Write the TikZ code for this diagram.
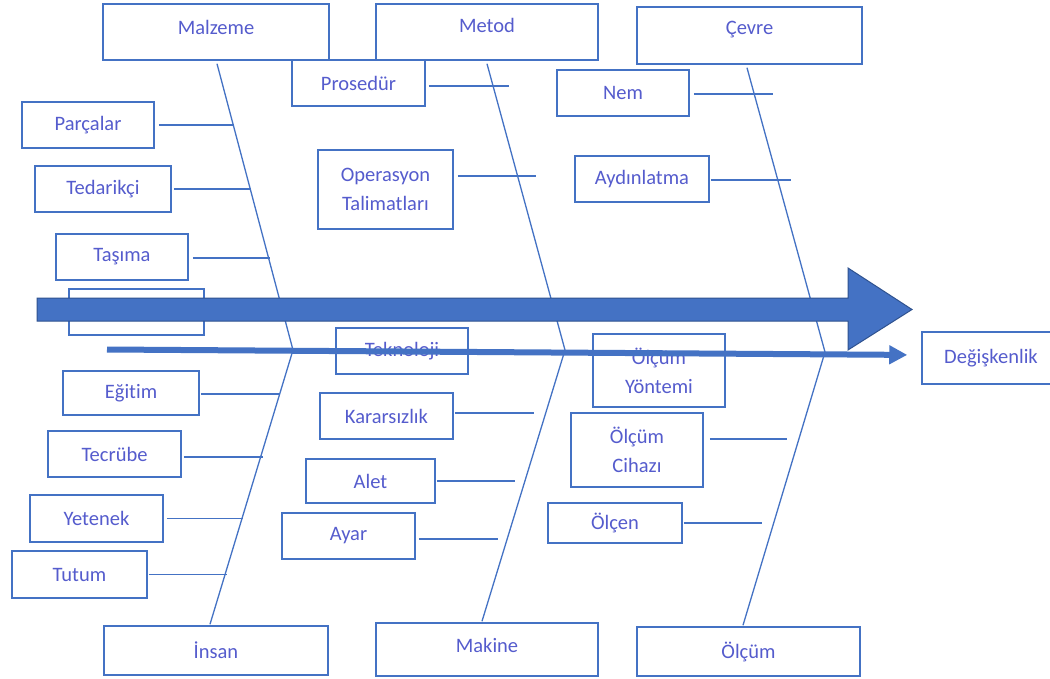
\documentclass[tikz,border=0pt]{standalone}
\usepackage{fontspec}
\setmainfont[Ligatures=NoCommon]{Carlito}
\usetikzlibrary{arrows.meta}
\definecolor{ob}{RGB}{68,114,196}
\definecolor{obd}{RGB}{47,82,143}
\definecolor{txt}{RGB}{85,92,205}
\begin{document}
\begin{tikzpicture}[x=1pt,y=-1pt,
  bx/.style 2 args={draw=ob, line width=1.5pt, fill=white, text=txt,
    font=\fontsize{20.5}{29}\selectfont, align=center, inner sep=0pt,
    minimum width=#1, minimum height=#2},
  lbl/.style={text=txt, font=\fontsize{20.5}{29}\selectfont},
  bone/.style={draw=ob, line width=1.3pt},
  branch/.style={draw=ob, line width=1.5pt},
  spine/.style={fill=ob, draw=obd, line width=1pt},
  thinarrow/.style={draw=ob, line width=6pt, -{Triangle[width=18pt,length=18pt]}, shorten >=14pt}]
\clip (0,0) rectangle (1050,679);
\fill[white] (0,0) rectangle (1050,679);

% category boxes
\node[bx={226pt}{56pt}, label={[lbl,yshift=5pt]center:Malzeme}] (malzeme) at (216,32) {};
\node[bx={222pt}{56pt}, label={[lbl,yshift=7pt]center:Metod}] (metod) at (487,32) {};
\node[bx={225pt}{57pt}, label={[lbl,yshift=6pt]center:Çevre}] (cevre) at (749.5,35.5) {};
\node[bx={224pt}{49pt}] (insan) at (216,650.5) {İnsan};
\node[bx={222pt}{53pt}, label={[lbl,yshift=4pt]center:Makine}] (makine) at (487,649.5) {};
\node[bx={223pt}{49pt}] (olcum) at (748.5,651.5) {Ölçüm};

% bones
\coordinate (mb) at (293,350);
\coordinate (kb) at (565,350);
\coordinate (cb) at (825,352);
\draw[bone] ([xshift=1pt,yshift=-3pt]malzeme.south) -- (mb) -- ([xshift=-6pt,yshift=1pt]insan.north);
\draw[bone] ([yshift=-3pt]metod.south) -- (kb) -- ([xshift=-5pt,yshift=1pt]makine.north);
\draw[bone] ([xshift=-2.5pt,yshift=-3pt]cevre.south) -- (cb) -- ([xshift=-5.5pt,yshift=1pt]olcum.north);

% cause boxes
\node[bx={133pt}{46pt}] (prosedur) at (358.5,83) {Prosedür};
\node[bx={132pt}{46pt}] (parcalar) at (88,125) {Parçalar};
\node[bx={136pt}{46pt}] (tedarikci) at (103,189) {Tedarikçi};
\node[bx={132pt}{46pt}] (tasima) at (122,257) {Taşıma};
\node[bx={135pt}{46pt}] (bos) at (136.5,312) {};
\node[bx={135pt}{79pt}] (operasyon) at (385.5,189.5) {Operasyon\\Talimatları};
\node[bx={132pt}{46pt}] (nem) at (623,93) {Nem};
\node[bx={134pt}{46pt}] (aydinlatma) at (642,179) {Aydınlatma};
\node[bx={132pt}{46pt}] (teknoloji) at (402,351) {Teknoloji};
\node[bx={132pt}{73pt}] (yontem) at (659,370.5) {Ölçüm\\Yöntemi};
\node[bx={138pt}{52pt}] (degiskenlik) at (991,358) {Değişkenlik};
\node[bx={136pt}{44pt}] (egitim) at (131,393) {Eğitim};
\node[bx={133pt}{46pt}] (tecrube) at (114.5,454) {Tecrübe};
\node[bx={133pt}{47pt}] (yetenek) at (96.5,518.5) {Yetenek};
\node[bx={135pt}{47pt}] (tutum) at (79.5,574.5) {Tutum};
\node[bx={133pt}{46pt}] (kararsizlik) at (386.5,416) {Kararsızlık};
\node[bx={129pt}{44pt}] (alet) at (370.5,481) {Alet};
\node[bx={133pt}{46pt}] (ayar) at (348.5,536) {Ayar};
\node[bx={132pt}{74pt}] (cihaz) at (637,450) {Ölçüm\\Cihazı};
\node[bx={134pt}{40pt}] (olcen) at (615,523) {Ölçen};

% branches
\draw[branch] ([xshift=4pt]parcalar.east) -- ++(75,0);
\draw[branch] ([xshift=2pt]tedarikci.east) -- ++(77,0);
\draw[branch] ([xshift=4pt,yshift=-1pt]tasima.east) -- ++(77,0);
\draw[branch] ([xshift=3pt,yshift=-3pt]prosedur.east) -- ++(80,0);
\draw[branch] ([xshift=4pt,yshift=13.5pt]operasyon.east) -- ++(78,0);
\draw[branch] ([xshift=4pt,yshift=-1pt]nem.east) -- ++(79,0);
\draw[branch] ([xshift=1pt,yshift=-1pt]aydinlatma.east) -- ++(80,0);
\draw[branch] ([xshift=1pt,yshift=-1pt]egitim.east) -- ++(79,0);
\draw[branch] ([xshift=2pt,yshift=-3pt]tecrube.east) -- ++(79,0);
\draw[branch] ([xshift=3pt]yetenek.east) -- ++(76,0);
\draw[branch] ([xshift=1pt]tutum.east) -- ++(78,0);
\draw[branch] ([xshift=1pt,yshift=3pt]kararsizlik.east) -- ++(79,0);
\draw[branch] ([xshift=1pt]alet.east) -- ++(78,0);
\draw[branch] ([xshift=3pt,yshift=-3pt]ayar.east) -- ++(79,0);
\draw[branch] ([xshift=6pt,yshift=11pt]cihaz.east) -- ++(77,0);
\draw[branch] ([xshift=1pt]olcen.east) -- ++(78,0);

% main spine arrow
\draw[spine] (37,298) -- (848,298) -- (848,268) -- (912,309.5) -- (848,350) -- (848,321) -- (37,321) -- cycle;

% thin arrow
\coordinate (ts) at (107,349.5);
\draw[thinarrow] (ts) -- ([yshift=3pt]degiskenlik.west);
\end{tikzpicture}
\end{document}
